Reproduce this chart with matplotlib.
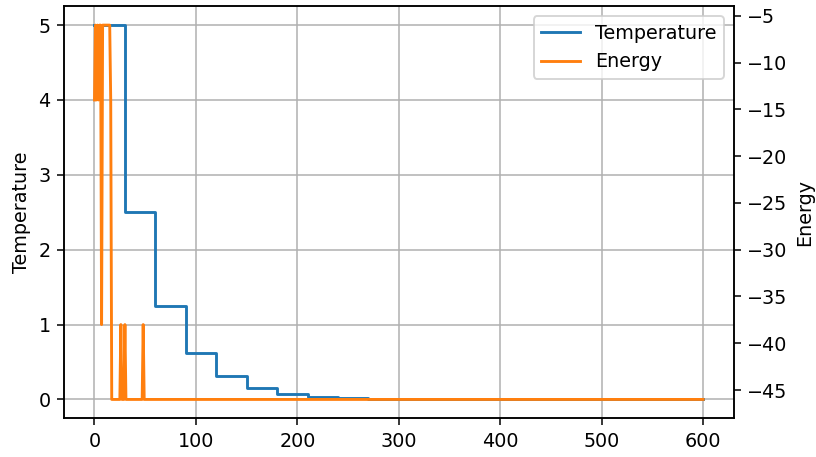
import matplotlib
matplotlib.use('Agg')
import matplotlib.pyplot as plt
import numpy as np

# temperature schedule: level held from each breakpoint to the next
temp_x = [0, 30, 60, 90, 120, 150, 180, 210, 240, 270, 300, 330, 360,
          390, 420, 450, 480, 510, 540, 570, 600]
temp_y = [5.0, 2.5, 1.25, 0.625, 0.3125, 0.15625, 0.078125, 0.0390625,
          0.01953125, 0.009765625, 0.0048828125, 0.00244140625,
          0.001220703125, 0.0006103515625, 0.00030517578125,
          0.000152587890625, 0.0000762939453125, 0.00003814697265625,
          0.000019073486328125, 0.0000095367431640625,
          0.0000095367431640625]

# energy trace: (step, value) points
energy_x = [0, 1, 2, 3, 4, 5, 6, 7, 8, 15, 16, 17, 25, 26, 27,
            29, 30, 31, 47, 48, 49, 600]
energy_y = [-14, -6, -14, -6, -14, -6, -6, -38, -6, -6, -14, -46, -46, -38, -46,
            -46, -38, -46, -46, -38, -46, -46]

dpi = 138
fig, ax1 = plt.subplots(figsize=(816 / dpi, 457 / dpi), dpi=dpi)
fig.subplots_adjust(left=0.0785, right=0.899, top=0.986, bottom=0.085)

l1, = ax1.plot(temp_x, temp_y, drawstyle='steps-post', color='C0', label='Temperature')
ax1.set_ylabel('Temperature')
ax1.grid(True)

ax2 = ax1.twinx()
l2, = ax2.plot(energy_x, energy_y, color='C1', label='Energy')
ax2.set_ylabel('Energy')

ax1.legend(handles=[l1, l2], loc='upper right')

fig.savefig('out.png', dpi=dpi)
